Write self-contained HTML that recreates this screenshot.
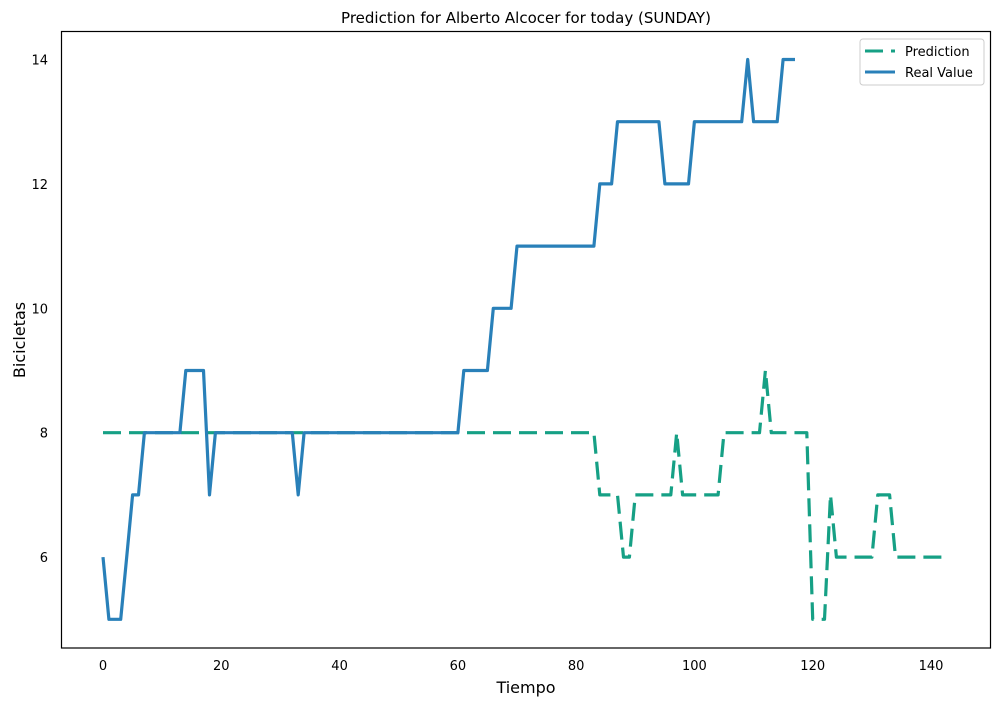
<!DOCTYPE html>
<html><head><meta charset="utf-8"><style>
body{margin:0;background:#fff}
svg text{font-family:"DejaVu Sans","Liberation Sans",sans-serif;fill:#000}
</style></head><body>
<svg id="chart" width="1000" height="705" xmlns="http://www.w3.org/2000/svg">
<rect x="0" y="0" width="1000" height="705" fill="#fff"/>
<text x="526" y="23" text-anchor="middle" font-size="15">Prediction for Alberto Alcocer for today (SUNDAY)</text>
<text x="526" y="693" text-anchor="middle" font-size="16">Tiempo</text>
<text transform="translate(25,340) rotate(-90)" text-anchor="middle" font-size="16">Bicicletas</text>
<g id="xt"></g>
<g id="yt"></g>
<g id="series"></g>
<rect x="61.5" y="31.5" width="929" height="616.5" fill="none" stroke="#000" stroke-width="1.2"/>
<g>
<rect x="860" y="39" width="124" height="46" rx="3" fill="#fff" stroke="#ccc"/>
<line x1="865" y1="51" x2="895" y2="51" stroke="#16a085" stroke-width="3" stroke-dasharray="18,8"/>
<text x="905" y="56" font-size="13">Prediction</text>
<line x1="865" y1="72" x2="895" y2="72" stroke="#2980b9" stroke-width="3"/>
<text x="905" y="77" font-size="13">Real Value</text>
</g>
</svg>
<script>
const xTicks=[0,20,40,60,80,100,120,140];
const yTicks=[6,8,10,12,14];
const realValues=[6,5,5,5,6,7,7,8,8,8,8,8,8,8,9,9,9,9,7,8,8,8,8,8,8,8,8,8,8,8,8,8,8,7,8,8,8,8,8,8,8,8,8,8,8,8,8,8,8,8,8,8,8,8,8,8,8,8,8,8,8,9,9,9,9,9,10,10,10,10,11,11,11,11,11,11,11,11,11,11,11,11,11,11,12,12,12,13,13,13,13,13,13,13,13,12,12,12,12,12,13,13,13,13,13,13,13,13,13,14,13,13,13,13,13,14,14,14];
const predValues=[8,8,8,8,8,8,8,8,8,8,8,8,8,8,8,8,8,8,8,8,8,8,8,8,8,8,8,8,8,8,8,8,8,8,8,8,8,8,8,8,8,8,8,8,8,8,8,8,8,8,8,8,8,8,8,8,8,8,8,8,8,8,8,8,8,8,8,8,8,8,8,8,8,8,8,8,8,8,8,8,8,8,8,8,7,7,7,7,6,6,7,7,7,7,7,7,7,8,7,7,7,7,7,7,7,8,8,8,8,8,8,8,9,8,8,8,8,8,8,8,5,5,5,7,6,6,6,6,6,6,6,7,7,7,6,6,6,6,6,6,6,6,6,6];
function xs(i){return 103+i*(931-103)/140;}
function ys(v){return 432.7-(v-8)*62.2;}
const NS="http://www.w3.org/2000/svg";
const xt=document.getElementById('xt'),yt=document.getElementById('yt'),sg=document.getElementById('series');
xTicks.forEach(t=>{const e=document.createElementNS(NS,'text');e.setAttribute('x',xs(t));e.setAttribute('y',670);e.setAttribute('text-anchor','middle');e.setAttribute('font-size','13');e.textContent=t;


xt.appendChild(e);});
yTicks.forEach(t=>{const e=document.createElementNS(NS,'text');e.setAttribute('x',48);e.setAttribute('y',ys(t)+5);e.setAttribute('text-anchor','end');e.setAttribute('font-size','13');e.textContent=t;


yt.appendChild(e);});
function path(vals,color,dash,name){const p=document.createElementNS(NS,'polyline');p.setAttribute('points',vals.map((v,i)=>xs(i).toFixed(1)+','+ys(v).toFixed(1)).join(' '));p.setAttribute('fill','none');p.setAttribute('stroke',color);p.setAttribute('stroke-width','3.2');p.setAttribute('stroke-linejoin','round');if(dash)p.setAttribute('stroke-dasharray',dash);


sg.appendChild(p);}
path(predValues,'#16a085','18,8','prediction-line');
path(realValues,'#2980b9',null,'real-value-line');
</script>
</body></html>
